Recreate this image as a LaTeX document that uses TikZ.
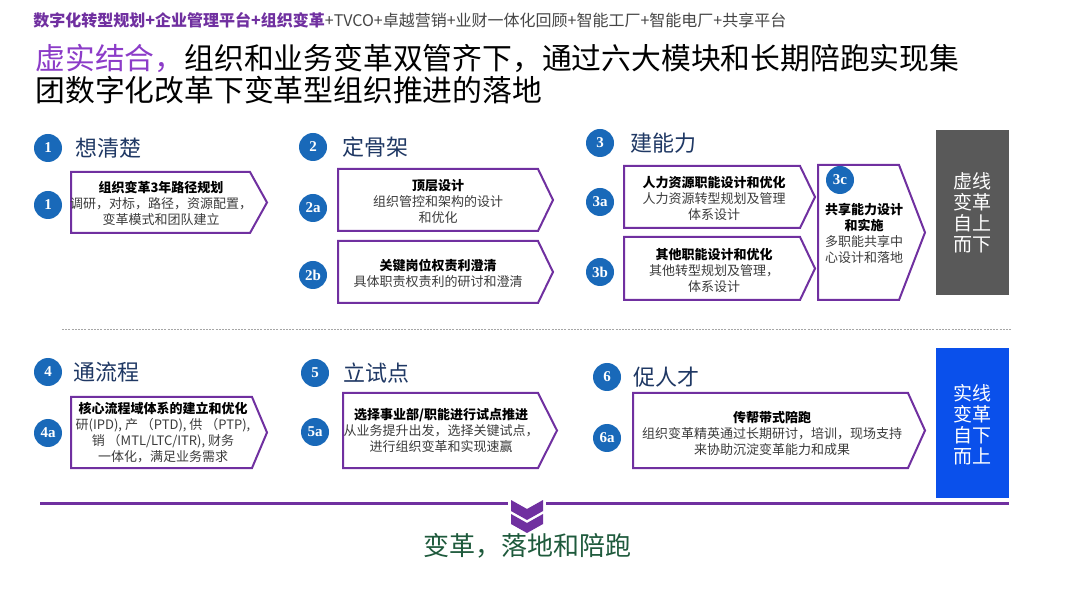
\documentclass[tikz,border=0pt]{standalone}
\usepackage{fontspec}
\setmainfont{Liberation Serif}
\newfontfamily\cjk{Noto Sans CJK SC}
\definecolor{bpurple}{RGB}{112,48,160}
\definecolor{tpurple}{RGB}{140,60,200}
\definecolor{hgray}{RGB}{70,70,70}
\definecolor{numblue}{RGB}{25,105,185}
\definecolor{headblue}{RGB}{31,56,100}
\definecolor{txtgray}{RGB}{60,60,60}
\definecolor{boxgray}{RGB}{89,89,89}
\definecolor{boxblue}{RGB}{10,80,235}
\definecolor{dgreen}{RGB}{30,90,60}
\newcommand\pbox[5]{\draw[pboxline] (#1,#2) -- (#3,#2) -- (#4,{(#2+#5)/2}) -- (#3,#5) -- (#1,#5) -- cycle;}
\begin{document}
\begin{tikzpicture}[x=0.5pt,y=-0.5pt,
  pboxline/.style={draw=bpurple, line width=1pt, fill=white, line join=miter},
  num/.style={circle, fill=numblue, text=white, minimum size=14pt, inner sep=0pt, font=\rmfamily\bfseries\fontsize{7.5}{8}\selectfont},
  head/.style={anchor=west, inner sep=0pt, text=headblue, font=\cjk\fontsize{11}{12}\selectfont},
  btxt/.style={align=center, inner sep=0pt, text=txtgray, font=\cjk\fontsize{6.5}{8}\selectfont},
  vtxt/.style={align=center, inner sep=0pt, text=white, font=\cjk\fontsize{9.5}{10.5}\selectfont}]
\useasboundingbox (0,0) rectangle (1080,608);
\fill[white] (0,0) rectangle (1080,608);

% header
\node[anchor=west, inner sep=0pt] (hdr) at (33,20) {\cjk\fontsize{8}{9}\selectfont\bfseries\color{bpurple}数字化转型规划+企业管理平台+组织变革\mdseries\color{hgray}+TVCO+卓越营销+业财一体化回顾+智能工厂+智能电厂+共享平台};

% title
\node[anchor=west, inner sep=0pt] (ttl1) at (35,58) {\cjk\fontsize{14.9}{17}\selectfont\color{tpurple}虚实结合，\color{black}组织和业务变革双管齐下，通过六大模块和长期陪跑实现集};
\node[anchor=west, inner sep=0pt] (ttl2) at (35,90) {\cjk\fontsize{14.9}{17}\selectfont 团数字化改革下变革型组织推进的落地};

% section headers
\node[num] (c1) at (48,148) {1};
\node[head] (h1) at (75,148) {想清楚};
\node[num] (c2) at (313,147) {2};
\node[head] (h2) at (342,147) {定骨架};
\node[num] (c3) at (600,143) {3};
\node[head] (h3) at (630,143) {建能力};
\node[num] (c4) at (48,372) {4};
\node[head] (h4) at (73,372) {通流程};
\node[num] (c5) at (315,373) {5};
\node[head] (h5) at (343,373) {立试点};
\node[num] (c6) at (607,377) {6};
\node[head] (h6) at (633,377) {促人才};

% boxes
\pbox{71}{172}{250}{267}{233}
\node[btxt] (t1) at (161,203) {{\bfseries\color{black}组织变革3年路径规划}\\调研，对标，路径，资源配置，\\变革模式和团队建立};
\node[num] (c1a) at (48,205) {1};

\pbox{338}{169}{538}{553}{231}
\node[btxt] (t2a) at (438,201) {{\bfseries\color{black}顶层设计}\\组织管控和架构的设计\\和优化};
\node[num] (c2a) at (313,208) {2a};

\pbox{338}{241}{538}{553}{303}
\node[btxt] (t2b) at (438,273) {{\bfseries\color{black}关键岗位权责利澄清}\\具体职责权责利的研讨和澄清};
\node[num] (c2b) at (313,275) {2b};

\pbox{624}{166}{800}{815}{228}
\node[btxt] (t3a) at (714,198) {{\bfseries\color{black}人力资源职能设计和优化}\\人力资源转型规划及管理\\体系设计};
\node[num] (c3a) at (600,202) {3a};

\pbox{624}{237}{800}{815}{300}
\node[btxt] (t3b) at (714,270) {{\bfseries\color{black}其他职能设计和优化}\\其他转型规划及管理，\\体系设计};
\node[num] (c3b) at (600,272) {3b};

\pbox{818}{165}{899}{925}{300}
\node[btxt] (t3c) at (864,233) {{\bfseries\color{black}共享能力设计}\\{\bfseries\color{black}和实施}\\多职能共享中\\心设计和落地};
\node[num] (c3c) at (840,180) {3c};

\pbox{71}{397}{252}{267}{468}
\node[btxt] (t4a) at (163,433) {{\bfseries\color{black}核心流程域体系的建立和优化}\\研(IPD), 产 （PTD), 供 （PTP),\\销 （MTL/LTC/ITR), 财务\\一体化，满足业务需求};
\node[num] (c4a) at (48,433) {4a};

\pbox{343}{393}{538}{557}{468}
\node[btxt] (t5a) at (441,430) {{\bfseries\color{black}选择事业部/职能进行试点推进}\\从业务提升出发，选择关键试点，\\进行组织变革和实现速赢};
\node[num] (c5a) at (315,432) {5a};

\pbox{633}{393}{908}{925}{468}
\node[btxt] (t6a) at (772,433) {{\bfseries\color{black}传帮带式陪跑}\\组织变革精英通过长期研讨，培训，现场支持\\来协助沉淀变革能力和成果};
\node[num] (c6a) at (607,438) {6a};

% side boxes
\fill[boxgray] (936,130) rectangle (1009,295);
\node[vtxt] (vg) at (972,213) {虚线\\变革\\自上\\而下};
\fill[boxblue] (936,348) rectangle (1009,498);
\node[vtxt] (vb) at (972,425) {实线\\变革\\自下\\而上};

% dashed separator
\draw[gray!70, line width=0.5pt, dash pattern=on 1pt off 0.6pt] (62,330) -- (1012,330);

% bottom line and chevrons
\draw[bpurple, line width=1.5pt] (40,503) -- (508,503);
\draw[bpurple, line width=1.5pt] (546,503) -- (1009,503);
\fill[bpurple] (511,500) -- (527,509) -- (543,500) -- (543,511) -- (527,520) -- (511,511) -- cycle;
\fill[bpurple] (511,514) -- (527,523) -- (543,514) -- (543,524) -- (527,533) -- (511,524) -- cycle;
\node[inner sep=0pt, text=dgreen, font=\cjk\fontsize{13}{14}\selectfont] (bt) at (527,546) {变革，落地和陪跑};
\end{tikzpicture}
\end{document}
